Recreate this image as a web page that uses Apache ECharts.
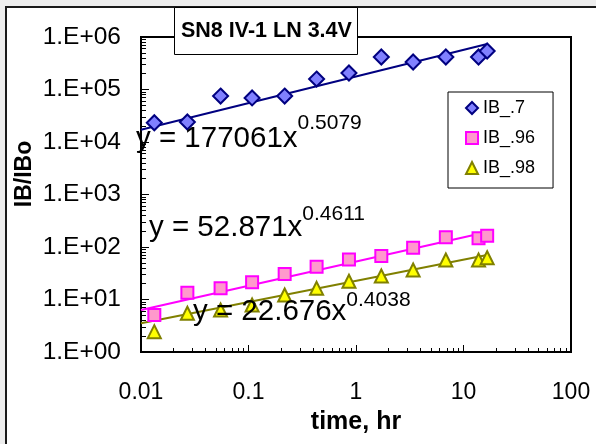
<!DOCTYPE html>
<html>
<head>
<meta charset="utf-8">
<script src="https://cdn.jsdelivr.net/npm/echarts@6/dist/echarts.min.js"></script>
<style>
  html, body { margin: 0; padding: 0; background: #ededed; }
  #chart { width: 596px; height: 444px; }
</style>
</head>
<body>
<div id="chart"></div>
<script>
// Measured IB/IBo ratios versus time (hr) for three bias points
const seriesNames = ['IB_.7', 'IB_.96', 'IB_.98'];
const times = [0.0133, 0.027, 0.055, 0.108, 0.217, 0.43, 0.86, 1.72, 3.4, 6.85, 13.8, 16.6];
const ib07 = [23300, 24000, 75000, 69000, 75000, 158000, 206000, 416000, 334000, 416000, 416000, 541000];
const ib096 = [5.07, 13.5, 16.3, 21.3, 30.6, 42.2, 57.5, 67.4, 97, 153, 146.5, 164];
const ib098 = [2.44, 5.46, 6.31, 7.85, 12.2, 16.3, 22.3, 28.0, 36.5, 56.5, 56.5, 62.5];

// Power-law fits y = a * x^b
const fitCoef = [177061, 52.871, 22.676];
const fitExp = [0.5079, 0.4611, 0.4038];
const fitLabelCoef = ['177061', '52.871', '22.676'];
const fitLabelExp = ['0.5079', '0.4611', '0.4038'];

// Tick labels
const xTickLabels = ['0.01', '0.1', '1', '10', '100'];
const yTickLabels = ['1.E+00', '1.E+01', '1.E+02', '1.E+03', '1.E+04', '1.E+05', '1.E+06'];

const FONT = '"Liberation Sans", Arial, Helvetica, sans-serif';
const seriesData = [ib07, ib096, ib098];
const symbols = ['diamond', 'rect', 'triangle'];
const symbolSizes = [15, 12, 13];
const fills = ['#8080ff', '#ff99cc', '#ffff00'];
const edges = ['#000080', '#ff00ff', '#808000'];

function minorTicks(fromExp, toExp) {
  const out = [];
  for (let e = fromExp; e < toExp; e++) {
    for (let m = 2; m <= 9; m++) out.push(+(m * Math.pow(10, e)).toPrecision(6));
  }
  return out;
}

const series = [];
// fitted trend lines, drawn from x = 0.01 to the last sample
seriesNames.forEach((name, i) => {
  const x0 = 0.01, x1 = times[times.length - 1];
  series.push({
    name: name + ' fit',
    type: 'line',
    xAxisIndex: 0, yAxisIndex: 0,
    data: [[x0, fitCoef[i] * Math.pow(x0, fitExp[i])], [x1, fitCoef[i] * Math.pow(x1, fitExp[i])]],
    showSymbol: false,
    silent: true,
    lineStyle: { color: edges[i], width: 2 },
    z: 2
  });
});
// measured points
seriesNames.forEach((name, i) => {
  series.push({
    name: name,
    type: 'scatter',
    xAxisIndex: 0, yAxisIndex: 0,
    data: times.map((t, k) => [t, seriesData[i][k]]),
    symbol: symbols[i],
    symbolSize: symbolSizes[i],
    itemStyle: { color: fills[i], borderColor: edges[i], borderWidth: 2, opacity: 1 },
    z: 3
  });
});

// equation labels: main text centre and superscript centre
const eqPos = [
  { x: 136, y: 139, sy: 123.5 },
  { x: 149, y: 228, sy: 214 },
  { x: 193, y: 312, sy: 300 }
];
const mainFont = 29.5, supFont = 21;
const ctx = document.createElement('canvas').getContext('2d');
ctx.font = mainFont + 'px ' + FONT;
const graphics = [
  {
    type: 'rect', z: -100, silent: true,
    shape: { x: 6, y: 7, width: 620, height: 460 },
    style: { fill: '#ffffff', stroke: '#1a1a1a', lineWidth: 2 }
  },
  {
    type: 'text', z: 50, silent: true,
    x: 25, y: 174, rotation: Math.PI / 2,
    style: { text: 'IB/IBo', font: 'bold 23px ' + FONT, fill: '#000', align: 'center', verticalAlign: 'middle' }
  }
];
eqPos.forEach((p, i) => {
  const main = 'y = ' + fitLabelCoef[i] + 'x';
  const w = ctx.measureText(main).width;
  graphics.push({
    type: 'text', z: 50, silent: true, x: p.x, y: p.y,
    style: { text: main, font: mainFont + 'px ' + FONT, fill: '#000', align: 'left', verticalAlign: 'middle' }
  });
  graphics.push({
    type: 'text', z: 50, silent: true, x: p.x + w, y: p.sy,
    style: { text: fitLabelExp[i], font: supFont + 'px ' + FONT, fill: '#000', align: 'left', verticalAlign: 'middle' }
  });
});

const chart = echarts.init(document.getElementById('chart'), null, { renderer: 'canvas' });
chart.setOption({
  animation: false,
  backgroundColor: 'transparent',
  textStyle: { fontFamily: FONT },
  title: {
    text: 'SN8 IV-1 LN 3.4V',
    left: 174, top: 7,
    padding: [13, 6, 13, 7],
    borderColor: '#000', borderWidth: 1,
    backgroundColor: '#fff',
    textStyle: { fontFamily: FONT, fontSize: 21.5, fontWeight: 'bold', color: '#000', lineHeight: 22 },
    z: 20
  },
  legend: {
    data: seriesNames,
    orient: 'vertical',
    left: 448, top: 92,
    padding: [7, 18, 11, 17],
    itemGap: 12,
    itemWidth: 12, itemHeight: 12,
    borderColor: '#000', borderWidth: 1, borderRadius: 0,
    backgroundColor: '#fff',
    textStyle: { fontFamily: FONT, fontSize: 18, color: '#000', lineHeight: 18 }
  },
  grid: {
    left: 141, top: 37, right: 25, bottom: 92,
    show: true, borderColor: '#000', borderWidth: 2, backgroundColor: 'transparent'
  },
  xAxis: [
    {
      type: 'log', logBase: 10, min: 0.01, max: 100,
      axisLine: { show: true, onZero: false, lineStyle: { color: '#000', width: 2 } },
      axisTick: { inside: true, length: 7, lineStyle: { color: '#000', width: 1 } },
      axisLabel: {
        margin: 29, fontSize: 23, color: '#000', fontFamily: FONT,
        showMinLabel: true, showMaxLabel: true,
        formatter: v => xTickLabels[Math.round(Math.log10(v)) + 2]
      },
      splitLine: { show: false },
      name: 'time, hr', nameLocation: 'middle', nameGap: 58,
      nameTextStyle: { fontFamily: FONT, fontSize: 25, fontWeight: 'bold', color: '#000' }
    },
    {
      type: 'log', logBase: 10, min: 0.01, max: 100, position: 'bottom',
      axisLine: { show: false },
      axisTick: { inside: true, length: 4, customValues: minorTicks(-2, 2), lineStyle: { color: '#000', width: 1 } },
      axisLabel: { show: false },
      splitLine: { show: false }
    }
  ],
  yAxis: [
    {
      type: 'log', logBase: 10, min: 1, max: 1e6,
      axisLine: { show: true, onZero: false, lineStyle: { color: '#000', width: 2 } },
      axisTick: { inside: true, length: 8, lineStyle: { color: '#000', width: 1 } },
      axisLabel: {
        margin: 20, fontSize: 24.5, color: '#000', fontFamily: FONT,
        showMinLabel: true, showMaxLabel: true,
        formatter: v => yTickLabels[Math.round(Math.log10(v))]
      },
      splitLine: { show: false }
    },
    {
      type: 'log', logBase: 10, min: 1, max: 1e6, position: 'left',
      axisLine: { show: false },
      axisTick: { inside: true, length: 5, customValues: minorTicks(0, 6), lineStyle: { color: '#000', width: 1 } },
      axisLabel: { show: false },
      splitLine: { show: false }
    }
  ],
  graphic: graphics,
  series: series
});
</script>
</body>
</html>
